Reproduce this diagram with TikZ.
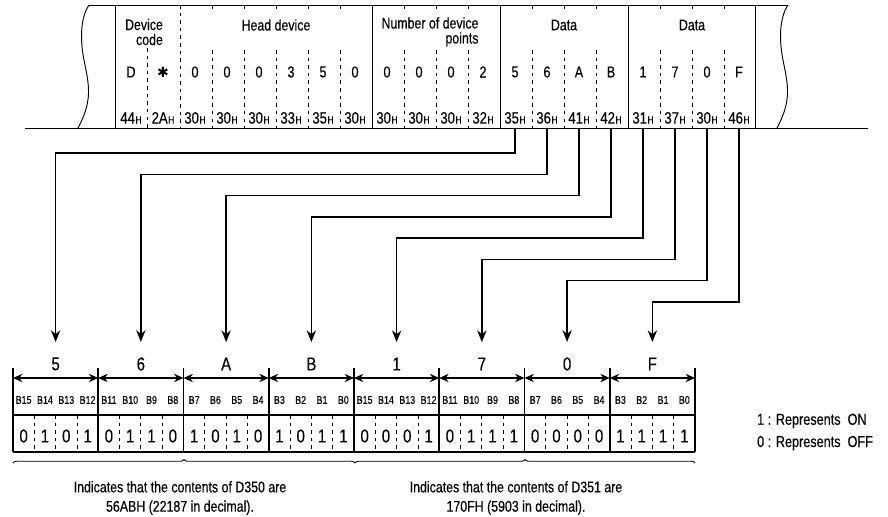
\documentclass[tikz,border=0pt]{standalone}
\usepackage{fontspec}
\setmainfont[FakeStretch=0.8,FakeBold=0.3]{Liberation Sans}
\newfontfamily\symfont{DejaVu Sans}
\usepackage{tikz}
\usetikzlibrary{positioning,calc,arrows.meta,decorations.pathreplacing}

\newcommand{\hs}{\kern0.5pt{\fontsize{9}{8}\selectfont H}}

\begin{document}
\begin{tikzpicture}[x=0.03cm,y=-0.03cm,
  frame/.style={line width=0.8pt},
  sep/.style={line width=0.7pt, dash pattern=on 3pt off 3.5pt},
  title/.style={font=\fontsize{13.2}{12.8}\selectfont, align=right, inner sep=0pt},
  chr/.style={font=\fontsize{13.5}{13}\selectfont, inner sep=0pt},
  hex/.style={font=\fontsize{14}{13}\selectfont, inner sep=0pt, anchor=south, text depth=3.6pt},
  conn/.style={line width=1.2pt, -{Stealth[length=10pt,width=8pt]}, shorten >=12pt},
  dim/.style={line width=1.2pt, {Stealth[length=8pt,width=7pt]}-{Stealth[length=8pt,width=7pt]}},
  tbl/.style={line width=1.3pt},
  nib/.style={font=\fontsize{16}{15}\selectfont, inner sep=1pt},
  bitlbl/.style={font=\fontsize{9.5}{9}\selectfont, inner sep=0pt},
  bitval/.style={font=\fontsize{16}{15}\selectfont, inner sep=0pt},
  brc/.style={line width=0.8pt, decorate, decoration={brace, amplitude=3pt}},
  note/.style={font=\fontsize{13.2}{16.5}\selectfont, align=center}]
\useasboundingbox (0,0) rectangle (888,517);

% Message frame
\draw[frame] (89,5) -- (788,5);
\draw[frame] (25,128) -- (868,128);
\foreach \dx in {0,699}
  \draw[frame] ({89+\dx},5) .. controls ({82+\dx},15) and ({79+\dx},35) .. ({84+\dx},60)
    .. controls ({89+\dx},85) and ({93+\dx},100) .. ({78+\dx},128);
\foreach \x in {115,372,500,628,755}
  \draw[frame] (\x,5) -- (\x,128);
\draw[sep] (147,48) -- (147,128);
\draw[sep] (180,5) -- (180,128);
\foreach \x in {212,244,276,308,340,404,436,468,532,564,596,660,692,724} {
  \draw[sep] (\x,5) -- (\x,10);
  \draw[sep] (\x,50) -- (\x,128);
}

% Field titles
\node[title] (tdev) at (144,32) {Device\\code};
\node[title] (thead) at (276,25) {Head device};
\node[title] (tnum) at (430,32) {Number of device\\points};
\node[title] (tdata1) at (564,25) {Data};
\node[title] (tdata2) at (692,25) {Data};

% Characters and codes
\foreach \c [count=\i] in {D,{\symfont\fontsize{12}{11}\selectfont ✱},0,0,0,3,5,0,0,0,0,2,5,6,A,B,1,7,0,F}
  \node[chr] (c\i) at ({99+32*\i},72) {\c};
\foreach \h [count=\i] in {44,2A,30,30,30,33,35,30,30,30,30,32,35,36,41,42,31,37,30,46}
  \node[hex] (h\i) at ({99+32*\i},128) {\h\hs};

% Bit table
\foreach \d [count=\i] in {5,6,A,B,1,7,0,F}
  \node[nib] (g\i) at ({13+85.25*(\i-0.5)},364) {\d};
\foreach \i in {0,...,8}
  \draw[tbl] ({13+85.25*\i},368) -- ({13+85.25*\i},452);
\foreach \i in {1,...,8}
  \draw[dim] ({13+85.25*(\i-1)},378) -- ({13+85.25*\i},378);
\draw[tbl] (13,415) -- (695,415);
\draw[tbl] (13,452) -- (695,452);
\foreach \j in {0,...,31} {
  \pgfmathtruncatemacro\bn{15-mod(\j,16)}
  \node[bitlbl] (b\j) at ({13+21.3125*(\j+0.5)},400) {B\bn};
}
\foreach \v [count=\j] in {0,1,0,1,0,1,1,0,1,0,1,0,1,0,1,1,0,0,0,1,0,1,1,1,0,0,0,0,1,1,1,1}
  \node[bitval] (v\j) at ({13+21.3125*(\j-0.5)},436) {\v};
\foreach \j in {1,...,31} {
  \pgfmathtruncatemacro\r{mod(\j,4)}
  \ifnum\r>0 \draw[sep] ({13+21.3125*\j},415) -- ({13+21.3125*\j},452); \fi
}

% Data characters to bits
\foreach \k [count=\i] in {13,...,20}
  \draw[conn] (h\k.south) -- ++(0,{25+21.3*(\i-1)}) -| (g\i.north);

% Braces and notes
\draw[brc] (13,463) -- (355,463);
\draw[brc] (355,463) -- (695,463);
\node[note] (n1) at (180,498) {Indicates that the contents of D350 are\\56ABH (22187 in decimal).};
\node[note] (n2) at (516,498) {Indicates that the contents of D351 are\\170FH (5903 in decimal).};
\node[note, align=left, anchor=west, font=\fontsize{13.5}{19}\selectfont] (key) at (753,432)
  {1 : Represents\ \ ON\\0 : Represents\ \ OFF};
\end{tikzpicture}
\end{document}
